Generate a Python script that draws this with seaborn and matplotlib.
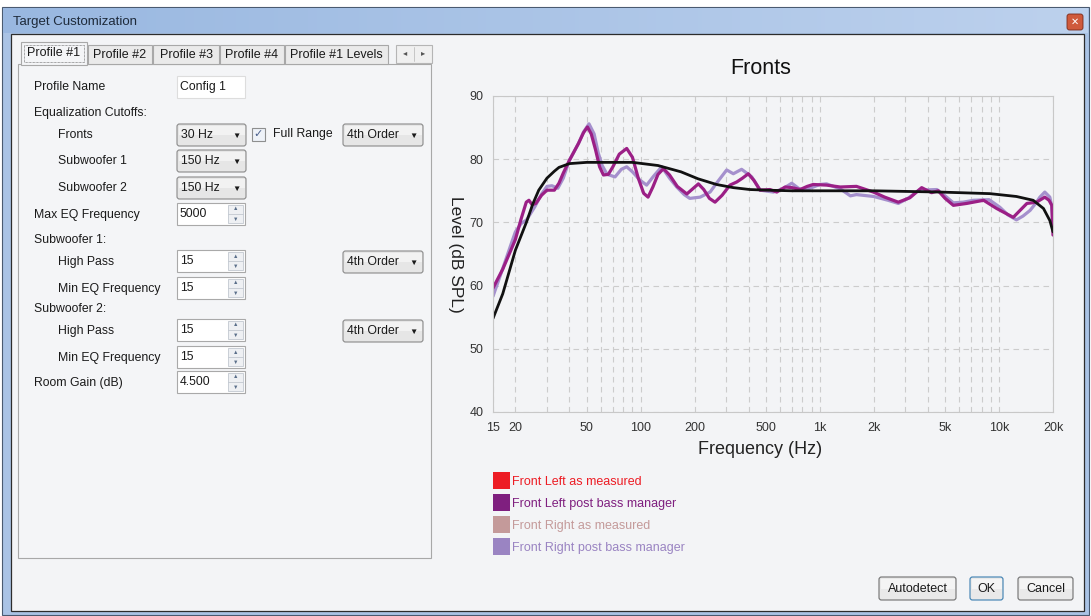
import numpy as np
import pandas as pd
import matplotlib
matplotlib.use("Agg")
import matplotlib.pyplot as plt
import seaborn as sns
from matplotlib.patches import Rectangle, FancyBboxPatch, Patch
from matplotlib.legend_handler import HandlerPatch
from matplotlib.ticker import FixedLocator, LogLocator, NullFormatter

# ---- data ----
tick_freqs = [15, 20, 50, 100, 200, 500, 1000, 2000, 5000, 10000, 20000]
tick_labels = ["15", "20", "50", "100", "200", "500", "1k", "2k", "5k", "10k", "20k"]
level_ticks = [40, 50, 60, 70, 80, 90]

# Front Left post bass manager (magenta)
left_freq = [15, 17, 19, 20, 21.5, 23, 23.8, 24.8, 26, 28, 30, 33, 35, 37, 40, 45, 48, 50.5,
             53, 56, 59, 62, 66, 70, 76, 83.6, 90, 97, 104, 110, 117, 125, 134, 145, 160,
             181, 195, 210, 225, 242, 260, 285, 315, 344, 370, 399, 430, 464, 527, 575,
             640, 700, 776, 850, 918, 1090, 1300, 1600, 1990, 2300, 2740, 3180, 3700,
             4200, 4580, 5000, 5560, 6600, 8200, 9700, 12000, 13200, 14300, 16200, 18000,
             19000, 19700, 20000]
left_level = [59.6, 62.6, 65.8, 67.3, 70.5, 73.2, 73.5, 72.8, 73.0, 74.3, 75.1, 75.1, 76.2,
              77.8, 79.8, 82.5, 84.2, 85.1, 84.0, 81.5, 78.8, 77.5, 77.6, 78.8, 80.8, 81.7,
              80.3, 77.0, 74.6, 74.0, 75.6, 77.6, 78.5, 77.5, 75.7, 74.5, 75.3, 76.1, 75.2,
              73.8, 73.2, 74.3, 75.9, 76.4, 77.0, 77.7, 76.6, 75.1, 75.2, 74.8, 75.6, 75.5,
              75.2, 75.7, 76.0, 75.9, 75.6, 75.7, 74.8, 74.0, 73.2, 73.9, 75.5, 74.7, 75.0,
              73.8, 72.7, 73.0, 73.5, 72.2, 70.8, 72.0, 73.0, 73.2, 74.0, 73.5, 72.7, 68.0]

# Front Right post bass manager (lavender)
right_freq = [15, 17, 19, 20, 21.5, 23.1, 25.7, 28, 30, 32, 34.5, 37, 40, 45, 48, 51.5, 55,
              58, 61, 65, 72, 78, 83.6, 90, 99, 108, 118, 131, 145, 159, 175, 188, 215, 244,
              270, 302, 329, 366, 417, 464, 550, 620, 697, 760, 806, 900, 1000, 1090, 1300,
              1480, 1600, 2000, 2400, 2740, 3100, 3570, 4500, 5000, 5560, 6300, 7200, 8800,
              10100, 11200, 12500, 13600, 14900, 16000, 16900, 18000, 19200, 19700, 20000]
right_level = [58.3, 62.7, 66.7, 68.5, 69.8, 70.4, 72.5, 74.5, 75.7, 75.8, 75.4, 77.0, 79.8,
               82.5, 84.3, 85.6, 84.0, 81.0, 79.0, 77.6, 77.2, 78.4, 78.8, 78.0, 76.7, 75.9,
               77.3, 78.8, 77.0, 75.6, 74.4, 73.8, 74.0, 74.8, 76.5, 78.3, 77.7, 78.4, 77.2,
               75.1, 74.8, 75.3, 76.2, 75.4, 75.1, 75.5, 76.0, 76.1, 75.3, 74.2, 74.4, 74.1,
               73.5, 73.0, 73.8, 75.1, 75.2, 74.2, 73.1, 73.2, 73.5, 73.6, 72.4, 71.2, 70.4,
               71.0, 71.9, 73.0, 74.0, 74.8, 74.0, 72.5, 69.3]

# target curve (black)
target_freq = [15, 17, 20, 23.1, 25, 27, 30, 33, 35, 40, 50, 70, 90, 125, 168, 209, 265, 329,
               407, 505, 700, 1000, 2000, 4700, 8900, 12500, 15500, 17700, 19200, 20000]
target_level = [54.8, 58.7, 65.6, 70.1, 72.9, 75.1, 77.0, 78.1, 78.7, 79.3, 79.5, 79.5, 79.5,
                79.0, 78.0, 76.9, 76.0, 75.5, 75.2, 75.1, 75.0, 75.0, 75.0, 74.8, 74.55,
                74.1, 73.5, 72.2, 70.3, 68.5]

legend_labels = ["Front Left as measured", "Front Left post bass manager",
                 "Front Right as measured", "Front Right post bass manager"]
legend_colors = ["#ed1c24", "#7f1f7f", "#c49a9a", "#9a84c2"]

W, H = 1091, 616
client = "#f3f4f6"

sns.set_theme(style="white")
plt.rcParams["font.family"] = ["Liberation Sans", "DejaVu Sans"]

fig = plt.figure(figsize=(W / 100, H / 100), dpi=100)
fig.patch.set_facecolor("white")

# ---- window chrome (pixel coordinates) ----
bg = fig.add_axes([0, 0, 1, 1], zorder=0)
bg.axis("off")


def rect(x0, y0, x1, y1, fc, ec="none", lw=0.8, z=1, rounded=False):
    if rounded:
        p = FancyBboxPatch((x0, y0), x1 - x0, y1 - y0, boxstyle="round,pad=0,rounding_size=2.5",
                           fc=fc, ec=ec, lw=lw, zorder=z)
    else:
        p = Rectangle((x0, y0), x1 - x0, y1 - y0, fc=fc, ec=ec, lw=lw, zorder=z)
    bg.add_patch(p)
    return p


def label(x, y, s, size=8.8, color="#1a1a1a", ha="left", **kw):
    bg.text(x, y, s, fontsize=size, color=color, ha=ha, va="center", zorder=5, **kw)


def combo(x0, y0, x1, y1, s):
    rect(x0, y0, x1, y1, "#e6e6e6", "#8a8a8a", z=2, rounded=True)
    rect(x0 + 1.5, y0 + 1.5, x1 - 1.5, (y0 + y1) / 2, "#f2f2f2", z=2)
    label(x0 + 4, (y0 + y1) / 2, s)
    label(x1 - 10, (y0 + y1) / 2 + 1, "▼", size=6, ha="center")


def spin(x0, y0, x1, y1, s):
    rect(x0, y0, x1, y1, "white", "#a9a9a9", z=2)
    rect(x1 - 17, y0 + 2, x1 - 2, y1 - 2, "#eef0f3", "#c2c8d0", lw=0.6, z=3)
    bg.plot([x1 - 17, x1 - 2], [(y0 + y1) / 2] * 2, color="#c2c8d0", lw=0.6, zorder=4)
    label(x1 - 9.5, y0 + 6, "▲", size=4, color="#5a6f8a", ha="center")
    label(x1 - 9.5, y1 - 5.5, "▼", size=4, color="#5a6f8a", ha="center")
    label(x0 + 3, (y0 + y1) / 2, s)


def button(x0, y0, x1, y1, s, ec="#707070"):
    rect(x0, y0, x1, y1, "#e9e9e9", ec, z=2, rounded=True)
    rect(x0 + 1.5, y0 + 1.5, x1 - 1.5, (y0 + y1) / 2, "#f4f4f4", z=2)
    label((x0 + x1) / 2, (y0 + y1) / 2, s, size=9, ha="center")


# outer frame + title bar
rect(2, 7, 1089, 615, "#aac3e5", "#4a5a70", z=0)
grad = np.linspace(0, 1, 256)[None, :, None]
c0 = np.array([0.60, 0.72, 0.88])
c1 = np.array([0.74, 0.82, 0.93])
bg.imshow(c0 + (c1 - c0) * grad, extent=(3, 1088, 33, 8), aspect="auto", zorder=0.5)
label(13, 22, "Target Customization", size=9.5, color="#1e2a3a")
rect(1067, 14, 1083, 30, "#cf5a3c", "#7a2a1a", lw=0.6, z=2, rounded=True)
label(1075, 22, "✕", size=7, color="white", ha="center", fontweight="bold")

# client area
rect(11, 34, 1084, 611, client, "#2c2c2c", lw=0.9, z=1)

# tab control
rect(18, 64, 431, 558, "#f4f5f7", "#a8a8a8", lw=0.8, z=1)
tabs = [("Profile #2", 88, 152), ("Profile #3", 153, 219), ("Profile #4", 220, 284),
        ("Profile #1 Levels", 285, 388)]
for s, a, b in tabs:
    rect(a, 45, b, 64, "#eaeaea", "#a8a8a8", z=2)
    label((a + b) / 2, 55, s, size=9, ha="center")
rect(21, 42, 87, 65, "#f4f5f7", "#a8a8a8", z=3)
focus = rect(24, 45, 84, 62, "none", "#555555", lw=0.5, z=4)
focus.set_linestyle((0, (1, 1)))
label(54, 53, "Profile #1", size=9, ha="center")
rect(396, 45, 432, 63, "#f0f0f0", "#b5b5b5", z=2)
bg.plot([414, 414], [47, 61], color="#c0c0c0", lw=0.6, zorder=3)
label(405, 54, "◂", size=6, color="#555555", ha="center")
label(423, 54, "▸", size=6, color="#555555", ha="center")

# form
label(34, 87, "Profile Name")
rect(177, 76, 245, 98, "white", "#dddddd", z=2)
label(180, 87, "Config 1")
label(34, 113, "Equalization Cutoffs:")
label(58, 135, "Fronts")
combo(177, 124, 246, 146, "30 Hz")
rect(252, 128, 265, 141, "#eef2f8", "#8e8f8f", z=2)
label(258.5, 134.5, "✓", size=8, color="#4a5f8c", ha="center")
label(273, 134, "Full Range")
combo(343, 124, 423, 146, "4th Order")
label(58, 161, "Subwoofer 1")
combo(177, 150, 246, 172, "150 Hz")
label(58, 188, "Subwoofer 2")
combo(177, 177, 246, 199, "150 Hz")
label(34, 215, "Max EQ Frequency")
spin(177, 203, 245, 225, "5000")
label(34, 240, "Subwoofer 1:")
label(58, 262, "High Pass")
spin(177, 250, 245, 272, "15")
combo(343, 251, 423, 273, "4th Order")
label(58, 289, "Min EQ Frequency")
spin(177, 277, 245, 299, "15")
label(34, 309, "Subwoofer 2:")
label(58, 331, "High Pass")
spin(177, 319, 245, 341, "15")
combo(343, 320, 423, 342, "4th Order")
label(58, 358, "Min EQ Frequency")
spin(177, 346, 245, 368, "15")
label(34, 383, "Room Gain (dB)")
spin(177, 371, 245, 393, "4.500")

# dialog buttons
button(879, 577, 956, 600, "Autodetect")
button(970, 577, 1003, 600, "OK", ec="#3c7fb1")
button(1018, 577, 1073, 600, "Cancel")

bg.set_xlim(0, W)
bg.set_ylim(H, 0)

# ---- the chart ----
ax = fig.add_axes([493 / W, 1 - 412 / H, 560 / W, 316 / H], zorder=2)
ax.set_facecolor(client)

curves = pd.concat([
    pd.DataFrame({"freq": right_freq, "level": right_level, "series": "right"}),
    pd.DataFrame({"freq": left_freq, "level": left_level, "series": "left"}),
    pd.DataFrame({"freq": target_freq, "level": target_level, "series": "target"}),
])
sns.lineplot(data=curves, x="freq", y="level", hue="series",
             hue_order=["right", "left", "target"],
             palette={"right": "#a590cd", "left": "#9b1f86", "target": "#111111"},
             estimator=None, sort=False, lw=2.3, legend=False, ax=ax)
ax.lines[-1].set_linewidth(2.0)

ax.set_xscale("log")
ax.set_xlim(15, 20000)
ax.set_ylim(40, 90)
ax.xaxis.set_major_locator(FixedLocator(tick_freqs))
ax.set_xticklabels(tick_labels)
ax.xaxis.set_minor_locator(LogLocator(base=10, subs=np.arange(2, 10)))
ax.xaxis.set_minor_formatter(NullFormatter())
ax.set_yticks(level_ticks)
ax.tick_params(which="both", length=0, labelsize=9, colors="#333333")
ax.tick_params(axis="x", pad=7)
ax.tick_params(axis="y", pad=7)
ax.grid(True, which="both", color="#cccccc", ls=(0, (5, 4)), lw=0.8)
for sp in ax.spines.values():
    sp.set_color("#c8c8c8")
    sp.set_linewidth(0.8)

ax.set_xlabel("Frequency (Hz)", fontsize=13, color="#222222")
ax.xaxis.set_label_coords((760 - 493) / 560, -(450 - 412) / 316)
ax.xaxis.label.set_va("center")
ax.set_ylabel("Level (dB SPL)", fontsize=12.5, color="#222222", rotation=270)
ax.yaxis.set_label_coords(-(493 - 456) / 560, (412 - 254) / 316)
ax.yaxis.label.set_ha("center")
ax.yaxis.label.set_va("center")
ax.text((761 - 493) / 560, (412 - 68) / 316, "Fronts", transform=ax.transAxes,
        fontsize=15.5, ha="center", va="center", color="#111111")


# square legend swatches, 17 px across
def square(legend, orig_handle, xdescent, ydescent, width, height, fontsize):
    s = 16.5 * 72 / 100
    return Rectangle((-xdescent, -ydescent + height / 2 - s / 2), s, s)


handles = [Patch(facecolor=c, edgecolor="none") for c in legend_colors]
ax.legend(handles, legend_labels, loc="upper left",
          bbox_to_anchor=(493 / W, 1 - 476 / H), bbox_transform=fig.transFigure,
          handler_map={Patch: HandlerPatch(patch_func=square)},
          frameon=False, labelcolor=legend_colors, fontsize=9, handlelength=1.34,
          handletextpad=0.2, labelspacing=0.8, borderaxespad=0, borderpad=0)

fig.savefig("out.png", dpi=100, facecolor=fig.get_facecolor())
